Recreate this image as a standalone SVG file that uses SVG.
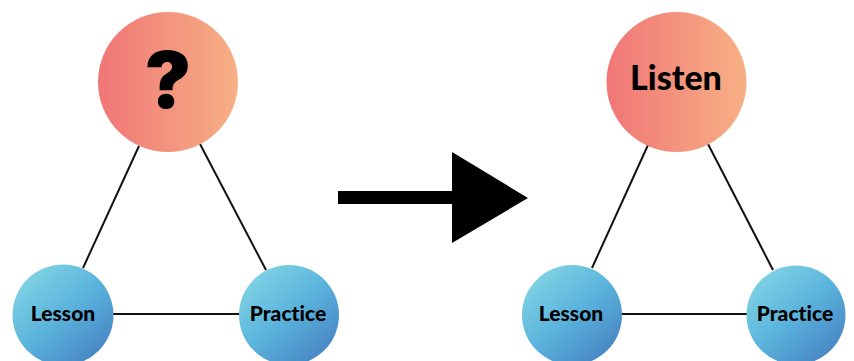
<svg xmlns="http://www.w3.org/2000/svg" width="854" height="361" viewBox="0 0 854 361">
<defs>
<linearGradient id="warm" x1="0" y1="0" x2="1" y2="0">
<stop offset="0" stop-color="#F07676"/>
<stop offset="1" stop-color="#F7B085"/>
</linearGradient>
<linearGradient id="cool" x1="0.15" y1="0.1" x2="0.85" y2="0.9">
<stop offset="0" stop-color="#7ED2E3"/>
<stop offset="0.5" stop-color="#5AB3DC"/>
<stop offset="1" stop-color="#4886C4"/>
</linearGradient>
<style>
.edge{stroke:#111;stroke-width:2;fill:none}
.top{fill:url(#warm)}
.bot{fill:url(#cool)}
.lbl{font-family:Lato,"Liberation Sans",sans-serif;font-weight:900;fill:#000;text-anchor:middle;font-variant-ligatures:none;font-feature-settings:"liga" 0}
.sm{font-size:21px}
.q{font-family:Inter,"Open Sans","Liberation Sans",sans-serif;font-weight:900;font-size:78px;fill:#000;text-anchor:middle}
</style>
</defs>
<rect width="854" height="361" fill="#fff"/>
<g id="connectors">
<line class="edge" x1="139" y1="146" x2="83" y2="268"/>
<line class="edge" x1="200" y1="144" x2="266" y2="270"/>
<line class="edge" x1="113" y1="314" x2="240" y2="314"/>
<line class="edge" x1="648" y1="145" x2="592" y2="268"/>
<line class="edge" x1="708" y1="144" x2="773" y2="270"/>
<line class="edge" x1="621" y1="314" x2="748" y2="314"/>
<path id="arrow" d="M338 191 H452 V152 L528 198 L452 243 V204 H338 Z" fill="#000"/>
</g>
<g id="node-q">
<circle class="top" cx="168" cy="82" r="70"/>
<text class="q" x="168" y="108">?</text>
</g>
<g id="node-lesson-1">
<circle class="bot" cx="63" cy="315" r="50.5"/>
<text class="lbl sm" x="63" y="321">Lesson</text>
</g>
<g id="node-practice-1">
<circle class="bot" cx="289" cy="315" r="50"/>
<text class="lbl sm" x="288" y="321">Practice</text>
</g>
<g id="node-listen">
<circle class="top" cx="676.5" cy="82" r="70"/>
<text class="lbl" x="676" y="90" font-size="34">Listen</text>
</g>
<g id="node-lesson-2">
<circle class="bot" cx="572" cy="315" r="50"/>
<text class="lbl sm" x="571" y="321">Lesson</text>
</g>
<g id="node-practice-2">
<circle class="bot" cx="796" cy="315" r="49.5"/>
<text class="lbl sm" x="795" y="321">Practice</text>
</g>
</svg>
